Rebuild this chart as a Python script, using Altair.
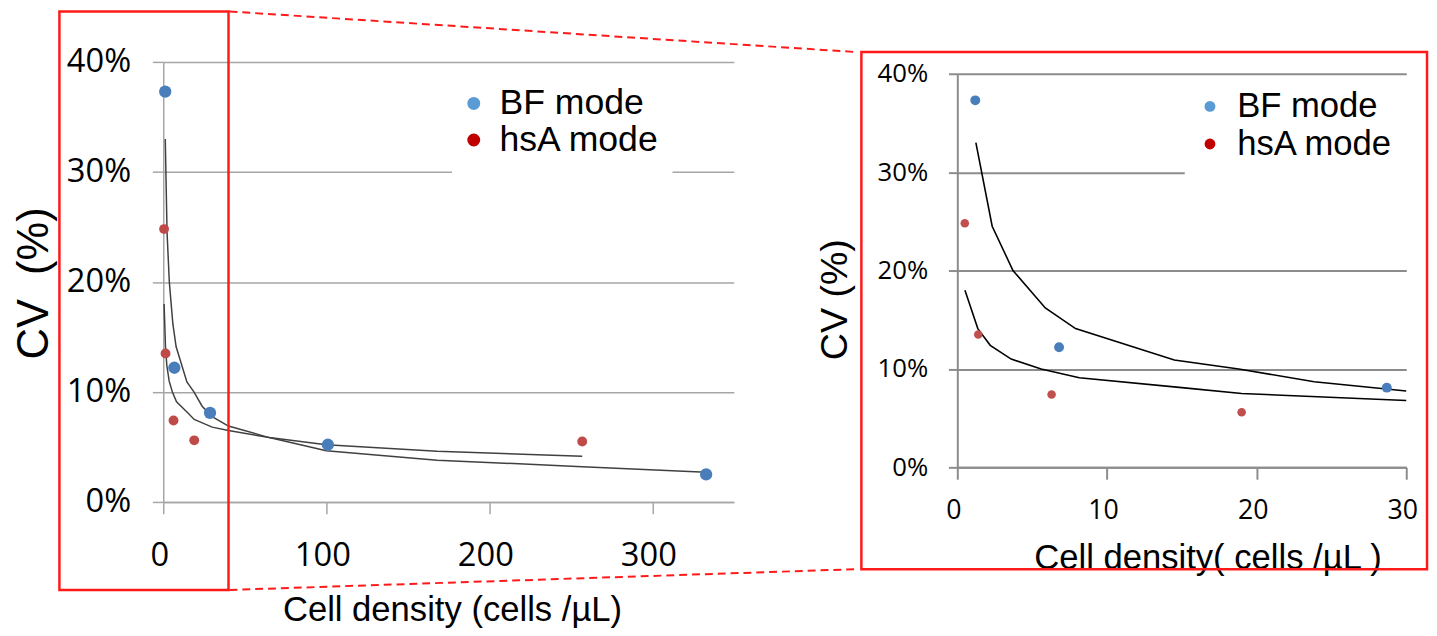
import altair as alt
import pandas as pd

# ---- data (CV in %) ----
modes = ["BF mode", "hsA mode"]

bf_x = [1.2, 6.8, 28.7, 101, 333]
bf_cv = [37.3, 12.2, 8.1, 5.2, 2.5]
hsa_x = [0.5, 1.4, 6.3, 19.0, 257]
hsa_cv = [24.8, 13.5, 7.4, 5.6, 5.5]

bf_fit_x = [1.24, 2.33, 3.72, 5.88, 7.9, 14.5, 18.8, 23.85, 30, 40, 65, 100, 168, 257, 333]
bf_fit_cv = [33.0, 24.5, 20.0, 16.2, 14.1, 10.9, 10.0, 8.7, 7.76, 6.9, 5.85, 4.65, 3.8, 3.2, 2.7]
hsa_fit_x = [0.51, 1.37, 2.2, 3.6, 5.6, 8.15, 15.0, 19.0, 30, 40, 65, 100, 168, 257]
hsa_fit_cv = [18.0, 14.1, 12.4, 11.0, 10.0, 9.1, 8.1, 7.5, 6.8, 6.5, 5.85, 5.2, 4.6, 4.16]

y_ticks = [0, 10, 20, 30, 40]
left_x_ticks = [0, 100, 200, 300]
right_x_ticks = [0, 10, 20, 30]

pts = pd.DataFrame({
    "density": bf_x + hsa_x,
    "cv": [v / 100 for v in bf_cv + hsa_cv],
    "mode": [modes[0]] * len(bf_x) + [modes[1]] * len(hsa_x),
})
fit = pd.DataFrame({
    "density": bf_fit_x + hsa_fit_x,
    "cv": [v / 100 for v in bf_fit_cv + hsa_fit_cv],
    "series": ["BF fit"] * len(bf_fit_x) + ["hsA fit"] * len(hsa_fit_x),
})
one = pd.DataFrame({"k": [0]})

TICKF = "Open Sans"
TEXTF = "Liberation Sans"
RED = "#FF1A1A"


def panel(xmax, xticks, yrange, grid_c, grid_w, lab_fs, tick_x, tick_y,
          lab_pad_x, lab_pad_y, xtitle, xt_fs, xt_x, xt_y, ytitle, yt_fs, yt_x, yt_y,
          line_c, line_w, sizes, pcolors, mask, leg_x, leg_y, leg_fs, leg_sym, leg_off,
          leg_rowpad, xlab_fs):
    xs = alt.Scale(domain=[0, xmax], nice=False, zero=False)
    ys = alt.Scale(domain=[0, 0.4], nice=False, range=yrange)
    xa = alt.Axis(values=xticks, format="d", grid=False, domainColor=grid_c, domainWidth=grid_w,
                  tickColor=grid_c, tickWidth=grid_w, tickSize=tick_x, labelFont=TICKF,
                  labelFontSize=xlab_fs, labelColor="black", labelBaseline="alphabetic",
                  labelPadding=lab_pad_x, labelOffset=-4, labelFlush=False, labelOverlap=False,
                  title=xtitle, titleFont=TEXTF, titleFontSize=xt_fs, titleFontWeight="normal",
                  titleColor="black", titleX=xt_x, titleY=xt_y, titleAlign="center",
                  titleBaseline="alphabetic")
    ya = alt.Axis(values=[v / 100 for v in y_ticks], format=".0%", grid=True, gridColor=grid_c,
                  gridWidth=grid_w, domainColor=grid_c, domainWidth=grid_w, tickColor=grid_c,
                  tickWidth=grid_w, tickSize=tick_y, labelFont=TICKF, labelFontSize=lab_fs,
                  labelColor="black", labelPadding=lab_pad_y, labelBaseline="middle",
                  labelOverlap=False, labelFlush=False,
                  title=ytitle, titleFont=TEXTF, titleFontSize=yt_fs, titleFontWeight="normal",
                  titleColor="black", titleX=yt_x, titleY=yt_y, titleAngle=270,
                  titleAlign="center", titleBaseline="middle", titleLimit=600)
    # white box behind the legend (hides the gridline like the original legend box)
    box = alt.Chart(one).mark_rect(color="white").encode(
        x=alt.value(mask[0]), x2=alt.value(mask[1]), y=alt.value(mask[2]), y2=alt.value(mask[3]))
    fitd = fit[fit["density"] <= xmax]
    lines = alt.Chart(fitd).mark_line(color=line_c, strokeWidth=line_w).encode(
        x=alt.X("density:Q", scale=xs, axis=xa),
        y=alt.Y("cv:Q", scale=ys, axis=ya),
        detail="series:N",
    )
    layers = [box, lines]
    for m, s, c in zip(modes, sizes, pcolors):
        layers.append(
            alt.Chart(pts).transform_filter(alt.datum.mode == m).transform_filter(
                alt.datum.density <= xmax).mark_circle(size=s, color=c, opacity=1).encode(
                x=alt.X("density:Q", scale=xs), y=alt.Y("cv:Q", scale=ys))
        )
    legend = alt.Chart(pts).transform_filter("datum.cv < 0").mark_circle(
        size=leg_sym, opacity=1).encode(
        color=alt.Color("mode:N", scale=alt.Scale(domain=modes, range=["#5B9BD5", "#C00000"]),
                        legend=alt.Legend(title=None, orient="none", legendX=leg_x, legendY=leg_y,
                                          padding=0, labelFont=TEXTF,
                                          labelFontSize=leg_fs, labelColor="black",
                                          symbolType="circle", symbolSize=leg_sym,
                                          symbolStrokeWidth=0, labelOffset=leg_off,
                                          rowPadding=leg_rowpad, symbolOpacity=1,
                                          labelLimit=400))
    )
    layers.append(legend)
    return layers


left_layers = panel(350, left_x_ticks, [445, 0], "#A6A6A6", 1.5, 33, 12, 11, 52, 22,
                    "Cell density (cells /µL)", 35, 292, 120, "CV\u00a0 (%)", 44, -130, 223.5,
                    "#404040", 1.5, [155, 100], ["#4A7EBB", "#BE4B48"], [292, 515, 10, 116],
                    296, 24, 36, 170, 8, 1, 33)
right_layers = panel(30, right_x_ticks, [410, 12], "#8C8C8C", 2, 26, 12, 9, 40, 21,
                     "Cell density( cells /µL )", 35, 253, 102, "CV (%)", 38, -123, 240,
                     "#000000", 1.6, [100, 75], ["#4A7EBB", "#C0504D"], [230, 458, 16, 116],
                     238, 27.5, 35, 120, 10, 2, 27)

# red zoom frames and connecting dashed lines (pixel annotations)
left_rect = alt.Chart(one).mark_rect(fillOpacity=0, stroke=RED, strokeWidth=2.5).encode(
    x=alt.value(-105), x2=alt.value(66), y=alt.value(-51), y2=alt.value(534))
dash_top = alt.Chart(one).mark_rule(color=RED, strokeWidth=2, strokeDash=[8, 5]).encode(
    x=alt.value(67), x2=alt.value(700), y=alt.value(-51), y2=alt.value(-10))
dash_bot = alt.Chart(one).mark_rule(color=RED, strokeWidth=2, strokeDash=[8, 5]).encode(
    x=alt.value(67), x2=alt.value(700), y=alt.value(534), y2=alt.value(513))
right_rect = alt.Chart(one).mark_rect(fillOpacity=0, stroke=RED, strokeWidth=2.5).encode(
    x=alt.value(-97), x2=alt.value(475), y=alt.value(-10), y2=alt.value(513))

left = alt.layer(*left_layers, left_rect, dash_top, dash_bot).properties(width=577, height=445)
right = alt.layer(*right_layers, right_rect).properties(width=454, height=410)

chart = alt.hconcat(left, right, spacing=226, bounds="flush").resolve_scale(
    x="independent", y="independent", color="independent"
).resolve_legend(color="independent").configure_view(stroke=None).properties(
    padding={"left": 5, "top": -2, "right": 0, "bottom": 0}
)

chart.save("out.html", embed_options={"renderer": "svg", "actions": False})
